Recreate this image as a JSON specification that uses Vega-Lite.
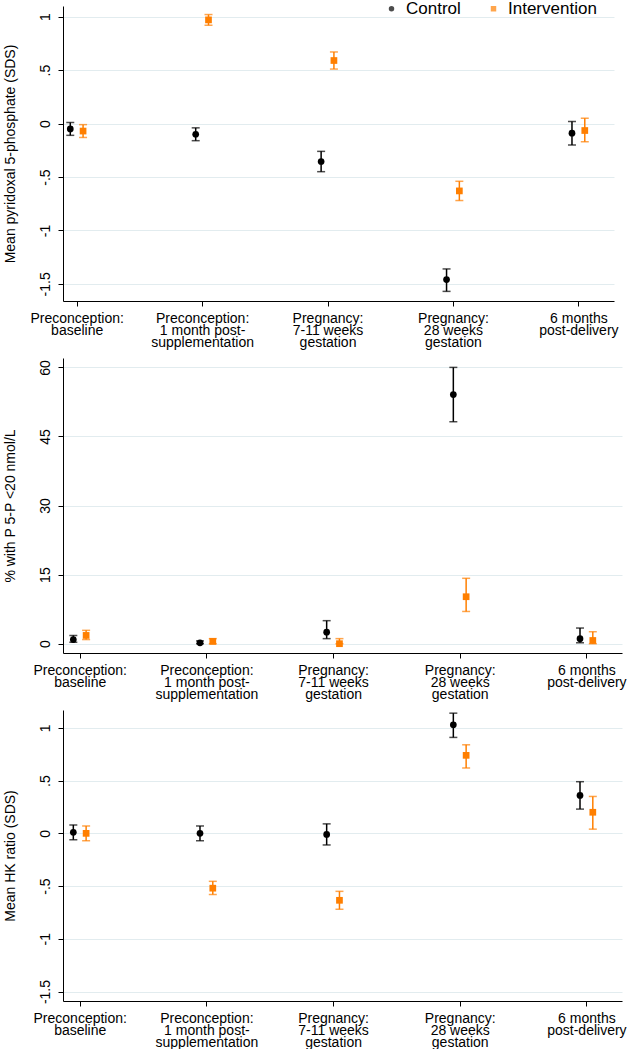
{
  "$schema": "https://vega.github.io/schema/vega-lite/v6.json",
  "background": "white",
  "padding": {"left": 3, "top": 0, "right": 5, "bottom": 0},
  "spacing": 9,
  "columns": 1,
  "config": {
    "font": "Liberation Sans",
    "view": {"stroke": null},
    "axis": {
      "domainColor": "#000000", "domainWidth": 1,
      "tickColor": "#000000", "tickSize": 5, "tickWidth": 1,
      "labelFont": "Liberation Sans", "labelFontSize": 14, "labelColor": "#000000",
      "titleFont": "Liberation Sans", "titleFontSize": 14, "titleColor": "#000000", "titleFontWeight": "normal",
      "gridColor": "#e2ecef", "gridWidth": 1
    },
    "axisX": {
      "grid": false, "title": null, "labelPadding": 5, "labelLineHeight": 12, "labelOverlap": false, "labelBound": false, "labelFlush": false
    },
    "axisY": {
      "grid": true, "labelAngle": -90, "labelAlign": "center", "labelBaseline": "bottom", "labelPadding": 5.5, "titlePadding": 20.8,
      "labelOverlap": false, "labelBound": false, "labelFlush": false,
      "labelExpr": "datum.value == 0 ? '0' : (datum.value < 0 ? '-' : '') + replace(format(abs(datum.value), '~g'), '0.', '.')"
    },
    "legend": {
      "labelFont": "Liberation Sans", "labelFontSize": 17, "labelColor": "#000000",
      "symbolSize": 30, "labelOffset": 6, "columnPadding": 24, "symbolStrokeWidth": 0
    }
  },
  "datasets": {
    "d": [
      {"panel": 1, "visit": 1, "group": "Control", "mean": -0.05, "lo": -0.11, "hi": 0.01},
      {"panel": 1, "visit": 1, "group": "Intervention", "mean": -0.07, "lo": -0.13, "hi": -0.01},
      {"panel": 1, "visit": 2, "group": "Control", "mean": -0.10, "lo": -0.16, "hi": -0.04},
      {"panel": 1, "visit": 2, "group": "Intervention", "mean": 0.97, "lo": 0.92, "hi": 1.02},
      {"panel": 1, "visit": 3, "group": "Control", "mean": -0.355, "lo": -0.45, "hi": -0.26},
      {"panel": 1, "visit": 3, "group": "Intervention", "mean": 0.59, "lo": 0.51, "hi": 0.67},
      {"panel": 1, "visit": 4, "group": "Control", "mean": -1.46, "lo": -1.57, "hi": -1.36},
      {"panel": 1, "visit": 4, "group": "Intervention", "mean": -0.63, "lo": -0.72, "hi": -0.54},
      {"panel": 1, "visit": 5, "group": "Control", "mean": -0.09, "lo": -0.20, "hi": 0.02},
      {"panel": 1, "visit": 5, "group": "Intervention", "mean": -0.065, "lo": -0.17, "hi": 0.05},
      {"panel": 2, "visit": 1, "group": "Control", "mean": 0.9, "lo": 0.3, "hi": 1.8},
      {"panel": 2, "visit": 1, "group": "Intervention", "mean": 1.8, "lo": 0.9, "hi": 2.9},
      {"panel": 2, "visit": 2, "group": "Control", "mean": 0.2, "lo": 0.0, "hi": 0.6},
      {"panel": 2, "visit": 2, "group": "Intervention", "mean": 0.5, "lo": 0.0, "hi": 1.1},
      {"panel": 2, "visit": 3, "group": "Control", "mean": 2.5, "lo": 1.1, "hi": 5.0},
      {"panel": 2, "visit": 3, "group": "Intervention", "mean": 0.0, "lo": 0.0, "hi": 1.1},
      {"panel": 2, "visit": 4, "group": "Control", "mean": 54.1, "lo": 48.2, "hi": 60.0},
      {"panel": 2, "visit": 4, "group": "Intervention", "mean": 10.2, "lo": 7.0, "hi": 14.2},
      {"panel": 2, "visit": 5, "group": "Control", "mean": 1.1, "lo": 0.2, "hi": 3.4},
      {"panel": 2, "visit": 5, "group": "Intervention", "mean": 0.7, "lo": 0.0, "hi": 2.6},
      {"panel": 3, "visit": 1, "group": "Control", "mean": 0.01, "lo": -0.06, "hi": 0.08},
      {"panel": 3, "visit": 1, "group": "Intervention", "mean": 0.0, "lo": -0.07, "hi": 0.07},
      {"panel": 3, "visit": 2, "group": "Control", "mean": 0.0, "lo": -0.07, "hi": 0.07},
      {"panel": 3, "visit": 2, "group": "Intervention", "mean": -0.52, "lo": -0.58, "hi": -0.455},
      {"panel": 3, "visit": 3, "group": "Control", "mean": -0.01, "lo": -0.11, "hi": 0.09},
      {"panel": 3, "visit": 3, "group": "Intervention", "mean": -0.635, "lo": -0.72, "hi": -0.55},
      {"panel": 3, "visit": 4, "group": "Control", "mean": 1.03, "lo": 0.91, "hi": 1.14},
      {"panel": 3, "visit": 4, "group": "Intervention", "mean": 0.74, "lo": 0.62, "hi": 0.84},
      {"panel": 3, "visit": 5, "group": "Control", "mean": 0.36, "lo": 0.23, "hi": 0.49},
      {"panel": 3, "visit": 5, "group": "Intervention", "mean": 0.20, "lo": 0.04, "hi": 0.35}
    ]
  },
  "concat": [
    {
      "width": 551, "height": 295,
      "data": {"name": "d"},
      "transform": [{"filter": "datum.panel == 1"}],
      "encoding": {
        "x": {"field": "visit", "type": "quantitative", "scale": {"domain": [0.891, 5.284], "nice": false, "zero": false},
          "axis": {"values": [1, 2, 3, 4, 5], "labelExpr": "[['Preconception:','baseline'],['Preconception:','1 month post-','supplementation'],['Pregnancy:','7-11 weeks','gestation'],['Pregnancy:','28 weeks','gestation'],['6 months','post-delivery']][datum.value - 1]"}},
        "color": {"field": "group", "type": "nominal", "title": null, "scale": {"domain": ["Control", "Intervention"], "range": ["#000000", "#ff7f00"]},
          "legend": {"orient": "none", "legendX": 320, "legendY": -6, "direction": "horizontal", "title": null, "fillColor": "white"}}
      },
      "layer": [
        {
          "transform": [{"filter": "datum.group == 'Control'"}],
          "layer": [
            {"mark": {"type": "rule", "strokeWidth": 1.5, "xOffset": -6.4},
             "encoding": {"y": {"field": "lo", "type": "quantitative", "title": "Mean pyridoxal 5-phosphate (SDS)", "scale": {"domain": [-1.66, 1.1], "nice": false, "zero": false}, "axis": {"values": [-1.5, -1, -0.5, 0, 0.5, 1]}}, "y2": {"field": "hi"}}},
            {"mark": {"type": "tick", "orient": "horizontal", "size": 8, "thickness": 1.5, "xOffset": -6.4},
             "encoding": {"y": {"field": "lo", "type": "quantitative", "title": "Mean pyridoxal 5-phosphate (SDS)", "scale": {"domain": [-1.66, 1.1], "nice": false, "zero": false}}}},
            {"mark": {"type": "tick", "orient": "horizontal", "size": 8, "thickness": 1.5, "xOffset": -6.4},
             "encoding": {"y": {"field": "hi", "type": "quantitative", "title": "Mean pyridoxal 5-phosphate (SDS)", "scale": {"domain": [-1.66, 1.1], "nice": false, "zero": false}}}},
            {"mark": {"type": "point", "filled": true, "opacity": 1, "size": 45, "xOffset": -6.4},
             "encoding": {"y": {"field": "mean", "type": "quantitative", "title": "Mean pyridoxal 5-phosphate (SDS)", "scale": {"domain": [-1.66, 1.1], "nice": false, "zero": false}},
               "shape": {"field": "group", "type": "nominal", "title": null, "scale": {"domain": ["Control", "Intervention"], "range": ["circle", "square"]}}}}
          ]
        },
        {
          "transform": [{"filter": "datum.group == 'Intervention'"}],
          "layer": [
            {"mark": {"type": "rule", "strokeWidth": 1.5, "xOffset": 6.4},
             "encoding": {"y": {"field": "lo", "type": "quantitative", "title": "Mean pyridoxal 5-phosphate (SDS)", "scale": {"domain": [-1.66, 1.1], "nice": false, "zero": false}}, "y2": {"field": "hi"}}},
            {"mark": {"type": "tick", "orient": "horizontal", "size": 8, "thickness": 1.5, "xOffset": 6.4},
             "encoding": {"y": {"field": "lo", "type": "quantitative", "title": "Mean pyridoxal 5-phosphate (SDS)", "scale": {"domain": [-1.66, 1.1], "nice": false, "zero": false}}}},
            {"mark": {"type": "tick", "orient": "horizontal", "size": 8, "thickness": 1.5, "xOffset": 6.4},
             "encoding": {"y": {"field": "hi", "type": "quantitative", "title": "Mean pyridoxal 5-phosphate (SDS)", "scale": {"domain": [-1.66, 1.1], "nice": false, "zero": false}}}},
            {"mark": {"type": "point", "filled": true, "opacity": 1, "size": 45, "xOffset": 6.4},
             "encoding": {"y": {"field": "mean", "type": "quantitative", "title": "Mean pyridoxal 5-phosphate (SDS)", "scale": {"domain": [-1.66, 1.1], "nice": false, "zero": false}},
               "shape": {"field": "group", "type": "nominal", "title": null, "scale": {"domain": ["Control", "Intervention"], "range": ["circle", "square"]}}}}
          ]
        }
      ]
    },
    {
      "width": 559, "height": 295,
      "data": {"name": "d"},
      "transform": [{"filter": "datum.panel == 2"}],
      "encoding": {
        "x": {"field": "visit", "type": "quantitative", "scale": {"domain": [0.868, 5.281], "nice": false, "zero": false},
          "axis": {"values": [1, 2, 3, 4, 5], "labelExpr": "[['Preconception:','baseline'],['Preconception:','1 month post-','supplementation'],['Pregnancy:','7-11 weeks','gestation'],['Pregnancy:','28 weeks','gestation'],['6 months','post-delivery']][datum.value - 1]"}},
        "color": {"field": "group", "type": "nominal", "legend": null, "scale": {"domain": ["Control", "Intervention"], "range": ["#000000", "#ff7f00"]}}
      },
      "layer": [
        {
          "transform": [{"filter": "datum.group == 'Control'"}],
          "layer": [
            {"mark": {"type": "rule", "strokeWidth": 1.5, "xOffset": -6.4},
             "encoding": {"y": {"field": "lo", "type": "quantitative", "title": "% with P 5-P <20 nmol/L", "scale": {"domain": [-2.02, 62.04], "nice": false, "zero": false}, "axis": {"values": [0, 15, 30, 45, 60]}}, "y2": {"field": "hi"}}},
            {"mark": {"type": "tick", "orient": "horizontal", "size": 8, "thickness": 1.5, "xOffset": -6.4},
             "encoding": {"y": {"field": "lo", "type": "quantitative", "title": "% with P 5-P <20 nmol/L", "scale": {"domain": [-2.02, 62.04], "nice": false, "zero": false}}}},
            {"mark": {"type": "tick", "orient": "horizontal", "size": 8, "thickness": 1.5, "xOffset": -6.4},
             "encoding": {"y": {"field": "hi", "type": "quantitative", "title": "% with P 5-P <20 nmol/L", "scale": {"domain": [-2.02, 62.04], "nice": false, "zero": false}}}},
            {"mark": {"type": "point", "filled": true, "opacity": 1, "size": 45, "xOffset": -6.4},
             "encoding": {"y": {"field": "mean", "type": "quantitative", "title": "% with P 5-P <20 nmol/L", "scale": {"domain": [-2.02, 62.04], "nice": false, "zero": false}},
               "shape": {"field": "group", "type": "nominal", "legend": null, "scale": {"domain": ["Control", "Intervention"], "range": ["circle", "square"]}}}}
          ]
        },
        {
          "transform": [{"filter": "datum.group == 'Intervention'"}],
          "layer": [
            {"mark": {"type": "rule", "strokeWidth": 1.5, "xOffset": 6.4},
             "encoding": {"y": {"field": "lo", "type": "quantitative", "title": "% with P 5-P <20 nmol/L", "scale": {"domain": [-2.02, 62.04], "nice": false, "zero": false}}, "y2": {"field": "hi"}}},
            {"mark": {"type": "tick", "orient": "horizontal", "size": 8, "thickness": 1.5, "xOffset": 6.4},
             "encoding": {"y": {"field": "lo", "type": "quantitative", "title": "% with P 5-P <20 nmol/L", "scale": {"domain": [-2.02, 62.04], "nice": false, "zero": false}}}},
            {"mark": {"type": "tick", "orient": "horizontal", "size": 8, "thickness": 1.5, "xOffset": 6.4},
             "encoding": {"y": {"field": "hi", "type": "quantitative", "title": "% with P 5-P <20 nmol/L", "scale": {"domain": [-2.02, 62.04], "nice": false, "zero": false}}}},
            {"mark": {"type": "point", "filled": true, "opacity": 1, "size": 45, "xOffset": 6.4},
             "encoding": {"y": {"field": "mean", "type": "quantitative", "title": "% with P 5-P <20 nmol/L", "scale": {"domain": [-2.02, 62.04], "nice": false, "zero": false}},
               "shape": {"field": "group", "type": "nominal", "legend": null, "scale": {"domain": ["Control", "Intervention"], "range": ["circle", "square"]}}}}
          ]
        }
      ]
    },
    {
      "width": 559, "height": 291,
      "data": {"name": "d"},
      "transform": [{"filter": "datum.panel == 3"}],
      "encoding": {
        "x": {"field": "visit", "type": "quantitative", "scale": {"domain": [0.868, 5.281], "nice": false, "zero": false},
          "axis": {"values": [1, 2, 3, 4, 5], "labelExpr": "[['Preconception:','baseline'],['Preconception:','1 month post-','supplementation'],['Pregnancy:','7-11 weeks','gestation'],['Pregnancy:','28 weeks','gestation'],['6 months','post-delivery']][datum.value - 1]"}},
        "color": {"field": "group", "type": "nominal", "legend": null, "scale": {"domain": ["Control", "Intervention"], "range": ["#000000", "#ff7f00"]}}
      },
      "layer": [
        {
          "transform": [{"filter": "datum.group == 'Control'"}],
          "layer": [
            {"mark": {"type": "rule", "strokeWidth": 1.5, "xOffset": -6.4},
             "encoding": {"y": {"field": "lo", "type": "quantitative", "title": "Mean HK ratio (SDS)", "scale": {"domain": [-1.59, 1.17], "nice": false, "zero": false}, "axis": {"values": [-1.5, -1, -0.5, 0, 0.5, 1]}}, "y2": {"field": "hi"}}},
            {"mark": {"type": "tick", "orient": "horizontal", "size": 8, "thickness": 1.5, "xOffset": -6.4},
             "encoding": {"y": {"field": "lo", "type": "quantitative", "title": "Mean HK ratio (SDS)", "scale": {"domain": [-1.59, 1.17], "nice": false, "zero": false}}}},
            {"mark": {"type": "tick", "orient": "horizontal", "size": 8, "thickness": 1.5, "xOffset": -6.4},
             "encoding": {"y": {"field": "hi", "type": "quantitative", "title": "Mean HK ratio (SDS)", "scale": {"domain": [-1.59, 1.17], "nice": false, "zero": false}}}},
            {"mark": {"type": "point", "filled": true, "opacity": 1, "size": 45, "xOffset": -6.4},
             "encoding": {"y": {"field": "mean", "type": "quantitative", "title": "Mean HK ratio (SDS)", "scale": {"domain": [-1.59, 1.17], "nice": false, "zero": false}},
               "shape": {"field": "group", "type": "nominal", "legend": null, "scale": {"domain": ["Control", "Intervention"], "range": ["circle", "square"]}}}}
          ]
        },
        {
          "transform": [{"filter": "datum.group == 'Intervention'"}],
          "layer": [
            {"mark": {"type": "rule", "strokeWidth": 1.5, "xOffset": 6.4},
             "encoding": {"y": {"field": "lo", "type": "quantitative", "title": "Mean HK ratio (SDS)", "scale": {"domain": [-1.59, 1.17], "nice": false, "zero": false}}, "y2": {"field": "hi"}}},
            {"mark": {"type": "tick", "orient": "horizontal", "size": 8, "thickness": 1.5, "xOffset": 6.4},
             "encoding": {"y": {"field": "lo", "type": "quantitative", "title": "Mean HK ratio (SDS)", "scale": {"domain": [-1.59, 1.17], "nice": false, "zero": false}}}},
            {"mark": {"type": "tick", "orient": "horizontal", "size": 8, "thickness": 1.5, "xOffset": 6.4},
             "encoding": {"y": {"field": "hi", "type": "quantitative", "title": "Mean HK ratio (SDS)", "scale": {"domain": [-1.59, 1.17], "nice": false, "zero": false}}}},
            {"mark": {"type": "point", "filled": true, "opacity": 1, "size": 45, "xOffset": 6.4},
             "encoding": {"y": {"field": "mean", "type": "quantitative", "title": "Mean HK ratio (SDS)", "scale": {"domain": [-1.59, 1.17], "nice": false, "zero": false}},
               "shape": {"field": "group", "type": "nominal", "legend": null, "scale": {"domain": ["Control", "Intervention"], "range": ["circle", "square"]}}}}
          ]
        }
      ]
    }
  ],
  "resolve": {"scale": {"color": "independent", "shape": "independent", "x": "independent", "y": "independent"}, "legend": {"color": "independent", "shape": "independent"}}
}
